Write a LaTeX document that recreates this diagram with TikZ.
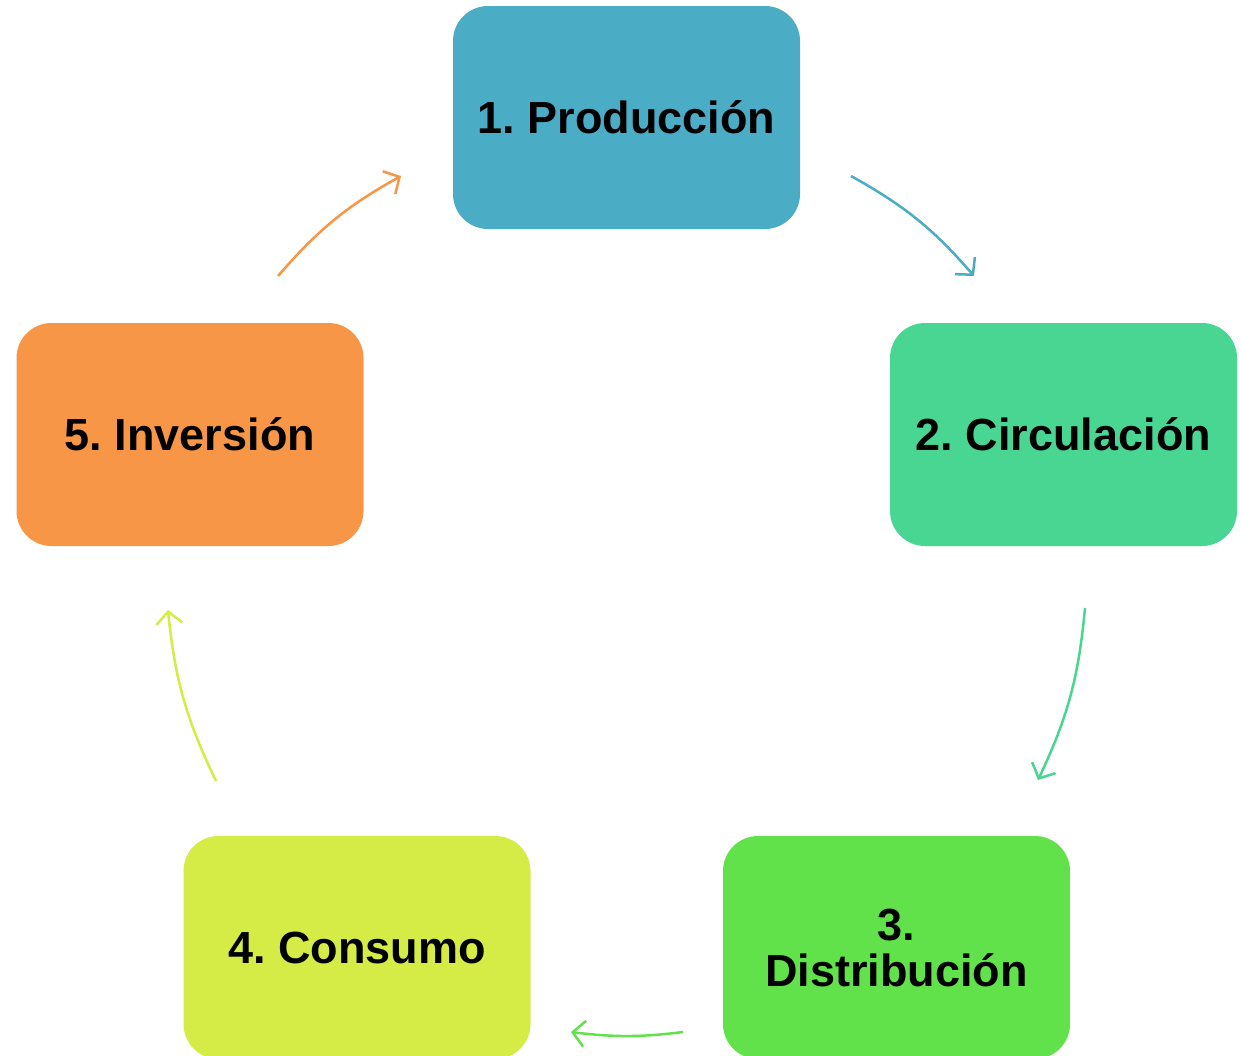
\documentclass[tikz,border=0pt]{standalone}
\usepackage{fontspec}
\setmainfont{Liberation Sans}
\frenchspacing
\usetikzlibrary{arrows.meta}
\definecolor{cA}{RGB}{75,172,198}
\definecolor{cB}{RGB}{73,213,146}
\definecolor{cC}{RGB}{98,226,74}
\definecolor{cD}{RGB}{212,236,69}
\definecolor{cE}{RGB}{247,150,70}
\tikzset{
  box/.style={rounded corners=35pt, minimum width=347pt, minimum height=223pt,
    inner sep=0pt, align=center, font=\fontsize{45}{46}\selectfont\bfseries, text=black},
  conn/.style={line width=2.5pt, -{Straight Barb[length=12pt,width=26pt,line width=2.5pt]}, bend left=10}
}
\begin{document}
\begin{tikzpicture}[x=1pt,y=-1pt]
\clip (0,0) rectangle (1241,1055);
\fill[white] (0,0) rectangle (1241,1055);
\node[box, fill=cA] (p1) at (626.5,117.5) {1. Producción};
\node[box, fill=cB] (p2) at (1063.5,434.5) {2. Circulación};
\node[box, fill=cC] (p3) at (896.5,947.5) {3.\\Distribución};
\node[box, fill=cD] (p4) at (357,947.5) {4. Consumo};
\node[box, fill=cE] (p5) at (190,434.5) {5. Inversión};
\coordinate (a1s) at (851,176);  \coordinate (a1e) at (974,276);
\coordinate (a2s) at (1085,608); \coordinate (a2e) at (1038,780);
\coordinate (a3s) at (683,1032); \coordinate (a3e) at (571,1032);
\coordinate (a4s) at (216,781);  \coordinate (a4e) at (168,610);
\coordinate (a5s) at (278,276);  \coordinate (a5e) at (401,176);
\draw[conn, cA] (a1s) to (a1e);
\draw[conn, cB] (a2s) to (a2e);
\draw[conn, cC, bend left=7] (a3s) to (a3e);
\draw[conn, cD] (a4s) to (a4e);
\draw[conn, cE] (a5s) to (a5e);
\end{tikzpicture}
\end{document}
